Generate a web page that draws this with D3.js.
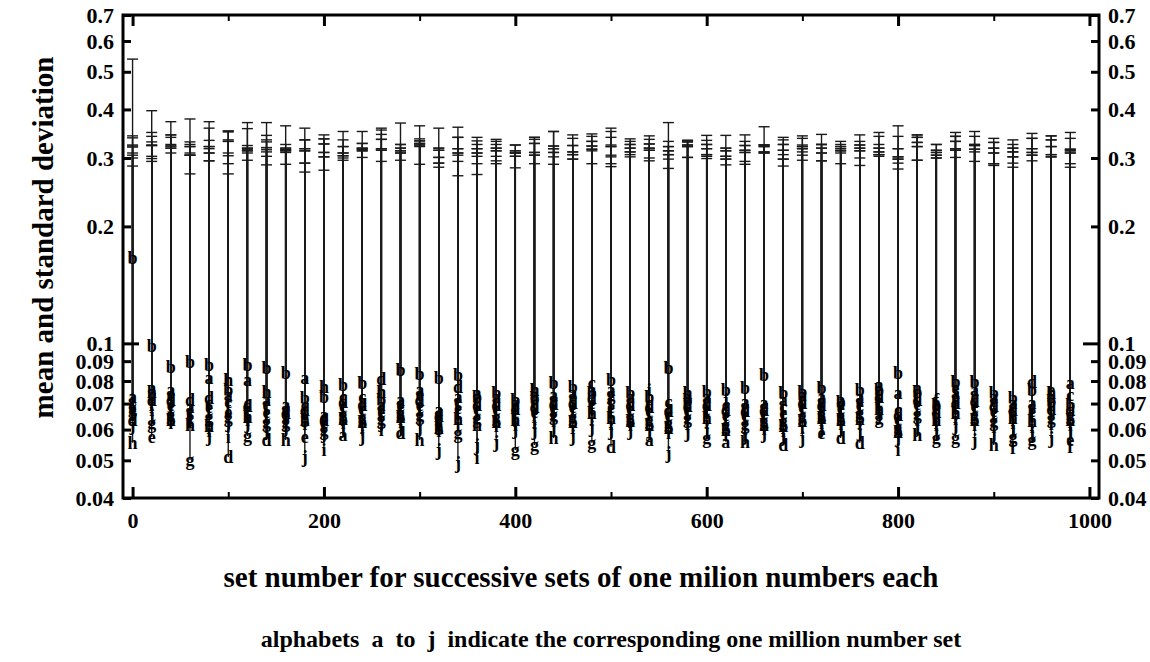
<!DOCTYPE html>
<html>
<head>
<meta charset="utf-8">
<script src="https://cdn.jsdelivr.net/npm/d3@7"></script>
<style>
  body { margin: 0; background: #fff; }
  svg text { font-family: "Liberation Serif", "Times New Roman", serif; font-weight: bold; fill: #000; }
</style>
</head>
<body>
<svg id="chart" width="1150" height="662"></svg>
<script>
// set number of the first set of each block of ten
var setNumbers = [0, 20, 40, 60, 80, 100, 120, 140, 160, 180, 200, 220, 240, 260, 280, 300, 320, 340, 360, 380,
                  400, 420, 440, 460, 480, 500, 520, 540, 560, 580, 600, 620, 640, 660, 680, 700, 720, 740, 760, 780,
                  800, 820, 840, 860, 880, 900, 920, 940, 960, 980];
var letters = ["a", "b", "c", "d", "e", "f", "g", "h", "i", "j"];

// mean of each set, a..j, per block
var means = [
  [.0728,.166,.0694,.0635,.0674,.0654,.0682,.0555,.0715,.0617],
  [.0768,.0983,.0737,.0715,.0575,.0694,.0624,.075,.0674,.0654],
  [.0759,.087,.0737,.0715,.0694,.0674,.0654,.0635,.0624,.0703],
  [.0686,.0896,.0666,.0715,.0646,.0628,.0501,.0615,.0635,.0654],
  [.0815,.088,.0703,.0724,.0686,.0666,.0646,.0612,.0595,.0578],
  [.0737,.0759,.0707,.051,.0666,.0682,.0646,.0805,.0574,.0628],
  [.0805,.088,.0703,.069,.0674,.066,.0578,.0646,.0635,.0624],
  [.0715,.0865,.0694,.0564,.0666,.0646,.0628,.075,.061,.0599],
  [.0694,.084,.0674,.0662,.0654,.0642,.0628,.0564,.0617,.061],
  [.0815,.0724,.0694,.0674,.0573,.066,.0646,.0635,.062,.051],
  [.0654,.0728,.0646,.0635,.0624,.061,.0599,.0773,.0532,.0588],
  [.0581,.0782,.0728,.0707,.069,.0674,.0654,.064,.0624,.0606],
  [.0711,.079,.0728,.0694,.0678,.066,.0642,.0628,.061,.0578],
  [.0694,.0715,.0682,.081,.0666,.0654,.064,.075,.0599,.0628],
  [.0715,.0854,.0703,.0588,.069,.0674,.066,.0646,.0628,.061],
  [.0759,.0834,.0737,.0715,.0694,.0674,.0654,.0564,.0635,.061],
  [.0674,.0815,.066,.065,.064,.0628,.0617,.0606,.0595,.0532],
  [.0728,.0829,.0707,.0773,.0682,.066,.0588,.064,.0617,.0492],
  [.0746,.0728,.0711,.0694,.0678,.066,.0642,.0617,.0507,.0548],
  [.0728,.0746,.0711,.0694,.0678,.0662,.0646,.0628,.0612,.0558],
  [.0703,.0715,.069,.0678,.0666,.065,.0532,.0635,.0617,.0603],
  [.0737,.0724,.0703,.0686,.0666,.0646,.0548,.0759,.0624,.0599],
  [.0737,.079,.0715,.0698,.0682,.0666,.0654,.0571,.063,.061],
  [.0746,.0773,.0724,.0703,.0686,.0666,.0646,.0628,.0606,.0578],
  [.0759,.0746,.079,.0724,.0703,.0682,.0555,.066,.0635,.061],
  [.0759,.0805,.0715,.0542,.0686,.0666,.0737,.0642,.062,.06],
  [.0728,.0746,.0711,.0694,.0678,.0662,.0646,.063,.0615,.0599],
  [.0564,.0728,.0703,.0686,.067,.0654,.0635,.0615,.0759,.0595],
  [.0686,.0865,.0707,.067,.0654,.0638,.0624,.0606,.0588,.0522],
  [.0728,.0715,.0703,.069,.0674,.0658,.0642,.0746,.062,.059],
  [.0728,.075,.0711,.0694,.0678,.0662,.0571,.0642,.0624,.0599],
  [.0558,.0759,.0694,.0674,.0654,.0635,.0617,.0599,.0581,.0715],
  [.0707,.0768,.0686,.067,.0654,.0638,.062,.0558,.0603,.0581],
  [.0703,.0829,.069,.0674,.066,.0646,.063,.0617,.0603,.0588],
  [.0715,.0746,.0686,.0548,.0662,.0646,.063,.0612,.0595,.0578],
  [.0737,.075,.072,.0703,.0686,.067,.065,.063,.0606,.0571],
  [.0728,.0768,.0711,.0694,.0588,.0674,.0658,.0642,.0624,.0606],
  [.0715,.0707,.0698,.0571,.0682,.0666,.065,.0635,.062,.061],
  [.0728,.0759,.0711,.0555,.0694,.0678,.066,.064,.062,.0595],
  [.0782,.0759,.0746,.0728,.0711,.0694,.0642,.0678,.0662,.0654],
  [.0746,.084,.0674,.0654,.064,.0624,.0606,.059,.0532,.0574],
  [.0768,.075,.0733,.0715,.0698,.0678,.0658,.0581,.0635,.061],
  [.0703,.0694,.0682,.0666,.065,.0715,.0571,.0635,.0617,.0595],
  [.0746,.0796,.0724,.0703,.0768,.0682,.0571,.0662,.064,.0617],
  [.0759,.0796,.0728,.0711,.069,.0674,.0654,.0635,.0615,.0564],
  [.0728,.0746,.0711,.069,.067,.065,.063,.0548,.061,.0588],
  [.0703,.0724,.069,.0674,.0658,.0538,.0574,.0642,.0624,.0606],
  [.0703,.0759,.0686,.0796,.067,.065,.0564,.063,.061,.0588],
  [.0728,.0711,.0694,.0678,.0759,.0662,.0642,.0746,.062,.0571],
  [.079,.0694,.0737,.0674,.0564,.0542,.0654,.0635,.0617,.0599]
];

// standard deviation of each set, a..j, per block
var sds = [
  [.342,.539,.338,.324,.322,.320,.309,.305,.300,.286],
  [.349,.397,.341,.330,.324,.323,.323,.303,.299,.294],
  [.344,.372,.344,.339,.325,.322,.322,.318,.318,.309],
  [.330,.378,.325,.321,.321,.309,.273,.305,.305,.305],
  [.358,.372,.333,.321,.321,.317,.309,.309,.295,.295],
  [.352,.352,.350,.334,.331,.331,.309,.304,.290,.273],
  [.357,.370,.323,.318,.318,.315,.313,.313,.309,.296],
  [.343,.370,.334,.330,.319,.319,.315,.311,.303,.288],
  [.325,.363,.318,.318,.315,.315,.313,.313,.310,.289],
  [.358,.334,.334,.317,.317,.313,.313,.291,.291,.276],
  [.344,.336,.336,.326,.326,.310,.310,.302,.302,.279],
  [.351,.334,.321,.321,.309,.309,.304,.304,.300,.296],
  [.351,.327,.327,.318,.318,.316,.316,.313,.313,.301],
  [.358,.354,.345,.335,.335,.317,.317,.314,.314,.294],
  [.325,.369,.325,.318,.318,.313,.313,.309,.309,.296],
  [.363,.336,.332,.332,.327,.327,.324,.324,.321,.289],
  [.358,.318,.318,.314,.314,.301,.301,.291,.291,.284],
  [.360,.339,.339,.317,.317,.309,.309,.305,.294,.270],
  [.339,.332,.325,.317,.317,.309,.309,.303,.290,.272],
  [.335,.331,.325,.318,.318,.313,.313,.303,.295,.290],
  [.324,.324,.313,.313,.309,.309,.309,.303,.303,.283],
  [.339,.339,.335,.327,.327,.310,.310,.305,.305,.290],
  [.351,.351,.322,.322,.317,.317,.310,.310,.302,.289],
  [.344,.337,.323,.323,.311,.311,.306,.306,.298,.298],
  [.346,.341,.331,.331,.322,.322,.316,.316,.313,.290],
  [.358,.351,.339,.324,.321,.321,.305,.302,.290,.285],
  [.336,.331,.325,.325,.318,.318,.311,.311,.306,.302],
  [.342,.335,.326,.326,.318,.318,.314,.314,.300,.295],
  [.331,.370,.321,.321,.313,.313,.306,.306,.298,.282],
  [.333,.333,.330,.330,.324,.324,.321,.321,.301,.301],
  [.343,.333,.325,.325,.317,.317,.306,.306,.303,.299],
  [.343,.318,.318,.313,.313,.303,.303,.298,.298,.288],
  [.344,.331,.323,.323,.314,.314,.310,.310,.294,.289],
  [.361,.324,.324,.324,.321,.321,.311,.311,.309,.309],
  [.339,.334,.325,.325,.314,.314,.306,.298,.298,.286],
  [.342,.337,.324,.321,.321,.317,.317,.311,.305,.296],
  [.345,.325,.325,.325,.318,.318,.309,.309,.295,.295],
  [.331,.325,.321,.321,.317,.317,.313,.313,.309,.290],
  [.344,.331,.324,.324,.318,.318,.313,.313,.300,.287],
  [.349,.341,.325,.318,.318,.311,.311,.306,.306,.303],
  [.341,.363,.317,.317,.302,.302,.298,.298,.291,.281],
  [.344,.344,.339,.339,.329,.329,.321,.321,.296,.296],
  [.325,.325,.314,.314,.310,.310,.305,.305,.300,.300],
  [.349,.341,.341,.331,.331,.317,.317,.314,.314,.301],
  [.351,.341,.325,.325,.323,.323,.316,.316,.311,.294],
  [.337,.329,.329,.318,.318,.309,.309,.290,.290,.287],
  [.334,.325,.318,.318,.311,.311,.302,.302,.291,.284],
  [.347,.337,.337,.317,.317,.310,.310,.305,.305,.295],
  [.342,.342,.334,.334,.321,.321,.306,.306,.302,.302],
  [.349,.337,.316,.316,.313,.313,.309,.309,.290,.284]
];

var xMajor = [0, 200, 400, 600, 800, 1000];
var xMinor = [100, 300, 500, 700, 900];
var yTicks = [0.04, 0.05, 0.06, 0.07, 0.08, 0.09, 0.1, 0.2, 0.3, 0.4, 0.5, 0.6, 0.7];
var yMajor = [0.1];

var pLeft = 123, pRight = 1099, pTop = 15, pBottom = 498;
var svg = d3.select("#chart");

var x = d3.scaleLinear().domain([-10, 1010]).range([pLeft, pRight]);
var y = d3.scaleLog().domain([0.04, 0.7]).range([pBottom, pTop]);

// flatten into one record per set
var sets = [];
setNumbers.forEach(function (s, g) {
  letters.forEach(function (l, i) {
    sets.push({ set: s, letter: l, mean: means[g][i], sd: sds[g][i] });
  });
});

var marks = svg.append("g");
marks.selectAll(".bar").data(sets).enter().append("line")
  .attr("class", "bar")
  .attr("x1", function (d) { return x(d.set); })
  .attr("x2", function (d) { return x(d.set); })
  .attr("y1", function (d) { return y(d.mean); })
  .attr("y2", function (d) { return y(d.sd); })
  .style("stroke", "#1a1a1a").style("stroke-width", 1.4);

marks.selectAll(".cap").data(sets).enter().append("line")
  .attr("class", "cap")
  .attr("x1", function (d) { return x(d.set) - 5.5; })
  .attr("x2", function (d) { return x(d.set) + 5.5; })
  .attr("y1", function (d) { return y(d.sd); })
  .attr("y2", function (d) { return y(d.sd); })
  .style("stroke", "#1a1a1a").style("stroke-width", 1.4);

marks.selectAll(".lbl").data(sets).enter().append("text")
  .attr("class", "lbl")
  .attr("x", function (d) { return x(d.set); })
  .attr("y", function (d) { return y(d.mean); })
  .attr("dy", "0.33em")
  .attr("text-anchor", "middle")
  .style("font-size", "18px")
  .text(function (d) { return d.letter; });

// axes, ticks pointing inward
function styleAxis(g) {
  g.attr("font-family", null).attr("font-size", null);
  g.select(".domain").remove();
  g.selectAll(".tick text").style("font-size", "22px");
}

svg.append("g").attr("transform", "translate(0," + pBottom + ")")
  .call(d3.axisBottom(x).tickValues(xMajor).tickSize(-11).tickPadding(14).tickFormat(d3.format("d")))
  .call(styleAxis)
  .selectAll(".tick line").style("stroke-width", 3);
svg.append("g").attr("transform", "translate(0," + pBottom + ")")
  .call(d3.axisBottom(x).tickValues(xMinor).tickSize(-6).tickFormat(""))
  .call(styleAxis).selectAll(".tick line").style("stroke-width", 2);
svg.append("g").attr("transform", "translate(0," + pTop + ")")
  .call(d3.axisTop(x).tickValues(xMajor).tickSize(-11).tickFormat(""))
  .call(styleAxis).selectAll(".tick line").style("stroke-width", 3);
svg.append("g").attr("transform", "translate(0," + pTop + ")")
  .call(d3.axisTop(x).tickValues(xMinor).tickSize(-6).tickFormat(""))
  .call(styleAxis).selectAll(".tick line").style("stroke-width", 2);

var fmtY = function (d) { return String(d); };
var yl = svg.append("g").attr("transform", "translate(" + pLeft + ",0)")
  .call(d3.axisLeft(y).tickValues(yTicks).tickSize(-8).tickPadding(9).tickFormat(fmtY))
  .call(styleAxis);
var yr = svg.append("g").attr("transform", "translate(" + pRight + ",0)")
  .call(d3.axisRight(y).tickValues(yTicks).tickSize(-8).tickPadding(9).tickFormat(fmtY))
  .call(styleAxis);
[yl, yr].forEach(function (g) {
  g.selectAll(".tick line").style("stroke-width", 3)
    .filter(function (d) { return yMajor.indexOf(d) >= 0; })
    .attr("x2", g === yl ? 16 : -16);
});

// frame
svg.append("rect")
  .attr("x", pLeft).attr("y", pTop)
  .attr("width", pRight - pLeft).attr("height", pBottom - pTop)
  .style("fill", "none").style("stroke", "#000").style("stroke-width", 3);

// titles
svg.append("text")
  .attr("transform", "translate(53," + ((pTop + pBottom) / 2 - 19) + ") rotate(-90)")
  .attr("text-anchor", "middle")
  .style("font-size", "29px")
  .text("mean and standard deviation");

svg.append("text")
  .attr("x", 581).attr("y", 587)
  .attr("text-anchor", "middle")
  .style("font-size", "29px")
  .text("set number for successive sets of one milion numbers each");

svg.append("text")
  .attr("x", 611).attr("y", 647)
  .attr("text-anchor", "middle")
  .attr("xml:space", "preserve")
  .style("white-space", "pre")
  .style("font-size", "24px")
  .text("alphabets  a  to  j  indicate the corresponding one million number set");
</script>
</body>
</html>
